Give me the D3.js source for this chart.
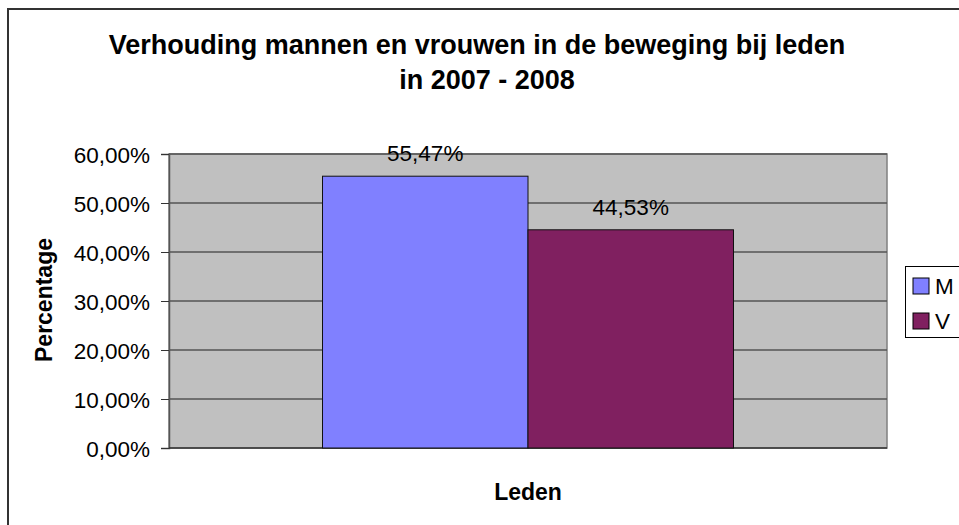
<!DOCTYPE html>
<html>
<head>
<meta charset="utf-8">
<script src="https://cdnjs.cloudflare.com/ajax/libs/d3/7.8.5/d3.min.js"></script>
<style>
body { margin: 0; background: #fff; }
text { font-family: "Liberation Sans", Arial, sans-serif; }
</style>
</head>
<body>
<svg width="959" height="525"></svg>
<script>
var categories = ["Leden"];
var series = ["M", "V"];
var values = [0.5547, 0.4453];
var colors = ["#8080FF", "#802060"];
var yTicks = [0, 0.1, 0.2, 0.3, 0.4, 0.5, 0.6];

var svg = d3.select("svg"),
  width = +svg.attr("width"),
  height = +svg.attr("height");

var plot = { left: 169, top: 154, right: 887, bottom: 448 };

function pct(v) {
  return d3.format(".2f")(v * 100).replace(".", ",") + "%";
}

// outer chart border
svg.append("rect")
  .attr("x", 8).attr("y", 9)
  .attr("width", width + 10).attr("height", height + 10)
  .style("fill", "none")
  .style("stroke", "#333")
  .style("stroke-width", 2);

var y = d3.scaleLinear()
  .domain([0, 0.6])
  .range([plot.bottom, plot.top]);

var x0 = d3.scaleBand()
  .domain(categories)
  .range([plot.left, plot.right])
  .paddingInner(0)
  .paddingOuter(0.3735);

var x1 = d3.scaleBand()
  .domain(series)
  .range([0, x0.bandwidth()]);

// plot area
svg.append("rect")
  .attr("x", plot.left).attr("y", plot.top)
  .attr("width", plot.right - plot.left)
  .attr("height", plot.bottom - plot.top)
  .style("fill", "#C0C0C0")
  .style("stroke", "#808080")
  .style("stroke-width", 1.5);

// gridlines
svg.append("g")
  .selectAll("line")
  .data(yTicks.slice(1))
  .enter().append("line")
  .attr("x1", plot.left).attr("x2", plot.right)
  .attr("y1", function(d) { return y(d); })
  .attr("y2", function(d) { return y(d); })
  .style("stroke", "#555")
  .style("stroke-width", 1.5);

// y axis
var yAxis = svg.append("g")
  .attr("transform", "translate(" + plot.left + ",0)")
  .call(d3.axisLeft(y).tickValues(yTicks).tickFormat(pct).tickSize(8).tickPadding(11));
yAxis.select(".domain").style("stroke", "#555").style("stroke-width", 1.5);
yAxis.selectAll(".tick line").style("stroke", "#333");
yAxis.selectAll("text")
  .style("font-size", "22.5px")
  .style("fill", "#000")
  .attr("dy", "0.36em");

// x axis line
svg.append("line")
  .attr("x1", plot.left).attr("x2", plot.right)
  .attr("y1", plot.bottom).attr("y2", plot.bottom)
  .style("stroke", "#333")
  .style("stroke-width", 1.5);

// bars
var group = svg.append("g")
  .selectAll("g")
  .data(categories)
  .enter().append("g")
  .attr("transform", function(d) { return "translate(" + x0(d) + ",0)"; });

group.selectAll("rect")
  .data(series.map(function(s, i) { return { key: s, value: values[i], color: colors[i] }; }))
  .enter().append("rect")
  .attr("x", function(d) { return x1(d.key); })
  .attr("y", function(d) { return y(d.value); })
  .attr("width", x1.bandwidth())
  .attr("height", function(d) { return plot.bottom - y(d.value); })
  .style("fill", function(d) { return d.color; })
  .style("stroke", "#111")
  .style("stroke-width", 1);

group.selectAll("text")
  .data(series.map(function(s, i) { return { key: s, value: values[i] }; }))
  .enter().append("text")
  .attr("x", function(d) { return x1(d.key) + x1.bandwidth() / 2; })
  .attr("y", function(d) { return y(d.value) - 15; })
  .attr("text-anchor", "middle")
  .style("font-size", "22.5px")
  .text(function(d) { return pct(d.value); });

// titles
var title = svg.append("text")
  .attr("text-anchor", "middle")
  .style("font-size", "27px")
  .style("font-weight", "bold");
title.append("tspan").attr("x", 477).attr("y", 54)
  .text("Verhouding mannen en vrouwen in de beweging bij leden");
title.append("tspan").attr("x", 487).attr("y", 89)
  .text("in 2007 - 2008");

svg.append("text")
  .attr("x", 528).attr("y", 500)
  .attr("text-anchor", "middle")
  .style("font-size", "23px")
  .style("font-weight", "bold")
  .text("Leden");

svg.append("text")
  .attr("transform", "translate(52,300) rotate(-90)")
  .attr("text-anchor", "middle")
  .style("font-size", "23px")
  .style("font-weight", "bold")
  .text("Percentage");

// legend
var legend = svg.append("g");
legend.append("rect")
  .attr("x", 905.5).attr("y", 266.5)
  .attr("width", 80).attr("height", 71)
  .style("fill", "#fff")
  .style("stroke", "#000")
  .style("stroke-width", 1);

var item = legend.selectAll("g")
  .data(series)
  .enter().append("g")
  .attr("transform", function(d, i) { return "translate(913," + (278 + i * 35) + ")"; });
item.append("rect")
  .attr("width", 16).attr("height", 16)
  .style("fill", function(d, i) { return colors[i]; })
  .style("stroke", "#000");
item.append("text")
  .attr("x", 22).attr("y", 16)
  .style("font-size", "22.5px")
  .text(function(d) { return d; });
</script>
</body>
</html>
